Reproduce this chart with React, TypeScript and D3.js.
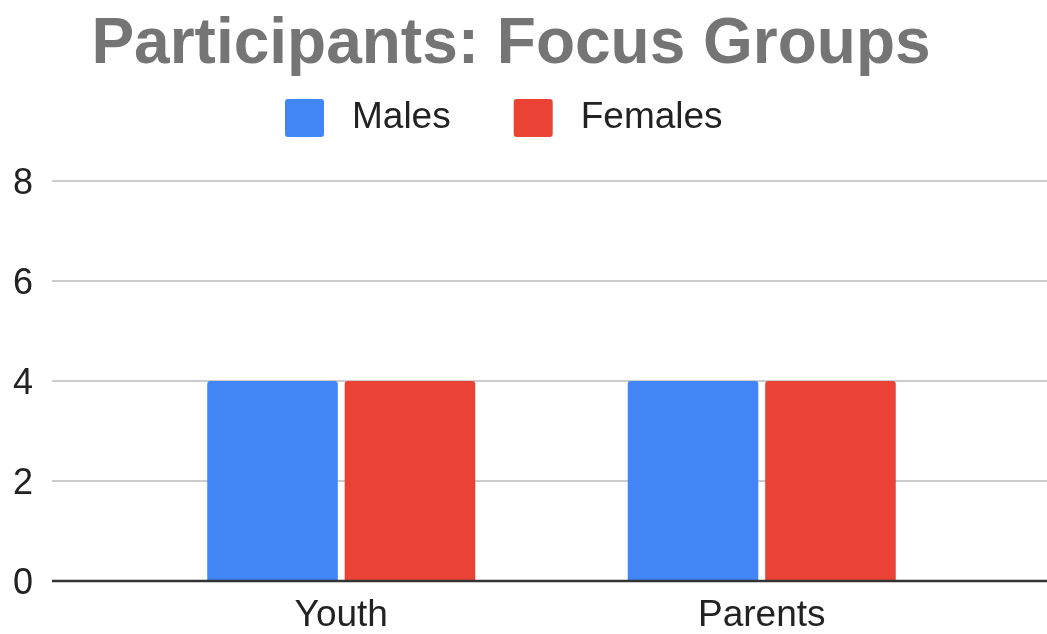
import React, { useRef, useEffect } from "react";
import * as d3 from "d3";

// chart data
const categories = ["Youth", "Parents"];
const seriesNames = ["Males", "Females"];
const males = [4, 4];
const females = [4, 4];
const yTicks = [0, 2, 4, 6, 8];
const colors = ["#4285F4", "#EA4335"];

const App = () => {
  const svgRef = useRef<SVGSVGElement>(null);

  useEffect(() => {
    const width = 1047;
    const height = 634;
    const font = "'Liberation Sans', Arial, sans-serif";

    const svg = d3.select(svgRef.current).attr("width", width).attr("height", height);
    svg.selectAll("*").remove();

    const values = [males, females];

    // scales
    const y = d3.scaleLinear().domain([0, 8]).range([581, 181]);
    const x0 = d3.scaleBand().domain(categories).range([131, 972]).padding(0);
    const x1 = d3.scaleBand().domain(seriesNames).range([0, 268]).paddingInner(0.05);
    const groupOffset = (x0.bandwidth() - 268) / 2;

    // title
    svg
      .append("text")
      .attr("x", 511)
      .attr("y", 63)
      .attr("text-anchor", "middle")
      .attr("font-family", font)
      .attr("font-weight", "bold")
      .attr("font-size", 64)
      .attr("fill", "#757575")
      .text("Participants: Focus Groups");

    // gridlines
    svg
      .append("g")
      .selectAll("line")
      .data(yTicks.filter((t) => t !== 0))
      .join("line")
      .attr("x1", 52)
      .attr("x2", width)
      .attr("y1", (d) => y(d))
      .attr("y2", (d) => y(d))
      .attr("stroke", "#cccccc")
      .attr("stroke-width", 2);

    // y labels
    svg
      .append("g")
      .selectAll("text")
      .data(yTicks)
      .join("text")
      .attr("x", 33)
      .attr("y", (d) => y(d))
      .attr("dy", "0.35em")
      .attr("text-anchor", "end")
      .attr("font-family", font)
      .attr("font-size", 36)
      .attr("fill", "#222")
      .text((d) => d);

    // bars (rounded top corners)
    const r = 3;
    const barPath = (bx: number, by: number, bw: number, bh: number) => {
      const p = d3.path();
      p.moveTo(bx, by + bh);
      p.lineTo(bx, by + r);
      p.quadraticCurveTo(bx, by, bx + r, by);
      p.lineTo(bx + bw - r, by);
      p.quadraticCurveTo(bx + bw, by, bx + bw, by + r);
      p.lineTo(bx + bw, by + bh);
      p.closePath();
      return p.toString();
    };

    seriesNames.forEach((s, si) => {
      svg
        .append("g")
        .selectAll("path")
        .data(categories.map((c, ci) => ({ c, v: values[si][ci] })))
        .join("path")
        .attr("fill", colors[si])
        .attr("d", (d) =>
          barPath(
            (x0(d.c) as number) + groupOffset + (x1(s) as number),
            y(d.v),
            x1.bandwidth(),
            y(0) - y(d.v)
          )
        );
    });

    // baseline
    svg
      .append("line")
      .attr("x1", 52)
      .attr("x2", width)
      .attr("y1", y(0))
      .attr("y2", y(0))
      .attr("stroke", "#333333")
      .attr("stroke-width", 2.5);

    // x labels
    svg
      .append("g")
      .selectAll("text")
      .data(categories)
      .join("text")
      .attr("x", (d) => (x0(d) as number) + x0.bandwidth() / 2)
      .attr("y", 626)
      .attr("text-anchor", "middle")
      .attr("font-family", font)
      .attr("font-size", 37)
      .attr("fill", "#222")
      .text((d) => d);

    // legend
    const legend = svg.append("g");
    let lx = 285;
    seriesNames.forEach((s, i) => {
      legend
        .append("rect")
        .attr("x", lx)
        .attr("y", 99)
        .attr("width", 39)
        .attr("height", 38)
        .attr("rx", 3)
        .attr("fill", colors[i]);
      const t = legend
        .append("text")
        .attr("x", lx + 67)
        .attr("y", 128)
        .attr("font-family", font)
        .attr("font-size", 37)
        .attr("fill", "#222")
        .text(s);
      const tw = (t.node() as SVGTextElement).getComputedTextLength();
      lx = lx + 67 + tw + 63;
    });
  }, []);

  return (
    <div style={{ position: "fixed", left: 0, top: 0 }}>
      <svg ref={svgRef} style={{ display: "block" }} />
    </div>
  );
};

export default App;
